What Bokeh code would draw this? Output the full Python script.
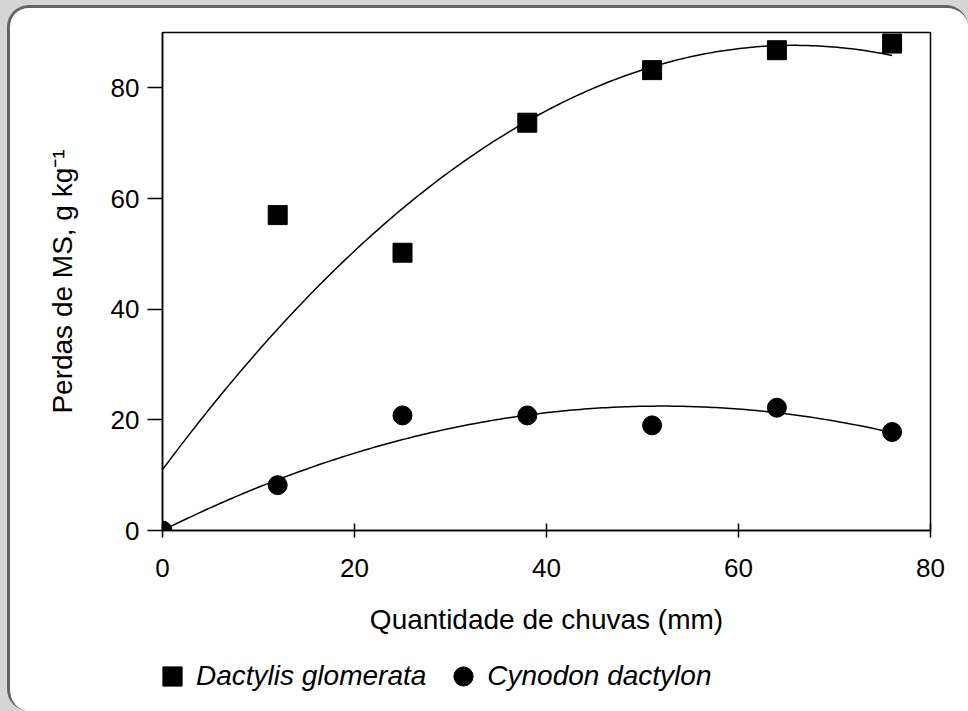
import numpy as np
from bokeh.plotting import figure
from bokeh.layouts import column
from bokeh.models import FixedTicker, Legend, LegendItem, Range1d
from bokeh.embed import file_html
from bokeh.resources import INLINE

# ---- data ----
x_dactylis = [12, 25, 38, 51, 64, 76]
y_dactylis = [57.0, 50.2, 73.7, 83.2, 86.8, 88.0]

x_cynodon = [0, 12, 25, 38, 51, 64, 76]
y_cynodon = [0.0, 8.2, 20.8, 20.8, 19.0, 22.2, 17.8]

# quadratic regression coefficients (a, b, c) for y = a + b*x + c*x^2
coef_dactylis = [11.0, 2.33, -0.0177]
coef_cynodon = [0.0, 0.865, -0.00832]
fit_xmax = 76

x_ticks = [0, 20, 40, 60, 80]
y_ticks = [0, 20, 40, 60, 80]

label_dactylis = "Dactylis glomerata"
label_cynodon = "Cynodon dactylon"
x_title = "Quantidade de chuvas (mm)"
y_title = "Perdas de MS, g kg\u207b\u00b9"

FONT = "Liberation Sans"
BORDER = "3px solid #646464"

W = 961
H1 = 643
H2 = 63

p = figure(width=W, height=H1, output_backend="svg", toolbar_location=None,
           x_range=Range1d(0, 80), y_range=Range1d(0, 90),
           min_border_left=152, min_border_right=41, min_border_top=24, min_border_bottom=121,
           background_fill_color="white", border_fill_color="white")
p.styles = {"border-top": BORDER, "border-left": BORDER,
            "border-top-left-radius": "22px", "border-top-right-radius": "22px",
            "background-color": "white", "overflow": "hidden"}

p.xgrid.visible = False
p.ygrid.visible = False
p.outline_line_color = "black"
p.outline_line_width = 1.5

xa = p.xaxis[0]
xa.ticker = FixedTicker(ticks=x_ticks)
xa.axis_label = x_title
xa.major_tick_in = 7
xa.major_tick_out = 7
xa.minor_tick_line_color = None
xa.major_label_standoff = 21
xa.axis_label_standoff = 24

ya = p.yaxis[0]
ya.ticker = FixedTicker(ticks=y_ticks)
ya.axis_label = y_title
ya.major_tick_in = 0
ya.major_tick_out = 15
ya.minor_tick_line_color = None
ya.major_label_standoff = 8
ya.axis_label_standoff = 30

for ax in (xa, ya):
    ax.axis_line_width = 1.5
    ax.axis_line_color = "black"
    ax.major_tick_line_width = 1.5
    ax.major_tick_line_color = "black"
    ax.major_label_text_font = FONT
    ax.major_label_text_font_size = "26px"
    ax.major_label_text_color = "black"
    ax.axis_label_text_font = FONT
    ax.axis_label_text_font_size = "28px"
    ax.axis_label_text_font_style = "normal"
    ax.axis_label_text_color = "black"

xs = np.linspace(0, fit_xmax, 200)
yd = coef_dactylis[0] + coef_dactylis[1] * xs + coef_dactylis[2] * xs ** 2
yc = coef_cynodon[0] + coef_cynodon[1] * xs + coef_cynodon[2] * xs ** 2
p.line(xs, yd, line_color="black", line_width=1.5)
p.line(xs, yc, line_color="black", line_width=1.5)

p.scatter(x_dactylis, y_dactylis, marker="square", size=19,
          fill_color="black", line_color="black")
p.scatter(x_cynodon, y_cynodon, marker="circle", size=19,
          fill_color="black", line_color="black")

# ---- legend strip (separate figure so the legend is not clipped) ----
# its ranges lie far from the data, so the proxy glyphs stay out of view
lg = figure(width=W, height=H2, output_backend="svg", toolbar_location=None,
            x_axis_location=None, y_axis_location=None,
            x_range=Range1d(-1000, -999), y_range=Range1d(-1000, -999),
            min_border=0, outline_line_color=None,
            background_fill_color="white", border_fill_color="white")
lg.styles = {"border-left": BORDER, "border-bottom-left-radius": "22px",
             "background-color": "white", "overflow": "hidden"}
lg.xgrid.visible = False
lg.ygrid.visible = False
ld = lg.scatter(x_dactylis, y_dactylis, marker="square", size=19,
                fill_color="black", line_color="black")
lc = lg.scatter(x_cynodon, y_cynodon, marker="circle", size=19,
                fill_color="black", line_color="black")

legend = Legend(items=[LegendItem(label=label_dactylis, renderers=[ld]),
                       LegendItem(label=label_cynodon, renderers=[lc])],
                orientation="horizontal", location=(-14, 11),
                glyph_width=48, glyph_height=48, label_standoff=0, spacing=13,
                padding=0, margin=0, border_line_color=None, background_fill_alpha=0,
                label_text_font=FONT, label_text_font_size="28px",
                label_text_font_style="italic", label_text_color="black")
lg.add_layout(legend, "center")

layout = column(p, lg, spacing=0)
layout.styles = {"padding-left": "7px", "padding-top": "5px", "background-color": "#d6d6d6"}

open("out.html", "w").write(file_html(layout, INLINE))
